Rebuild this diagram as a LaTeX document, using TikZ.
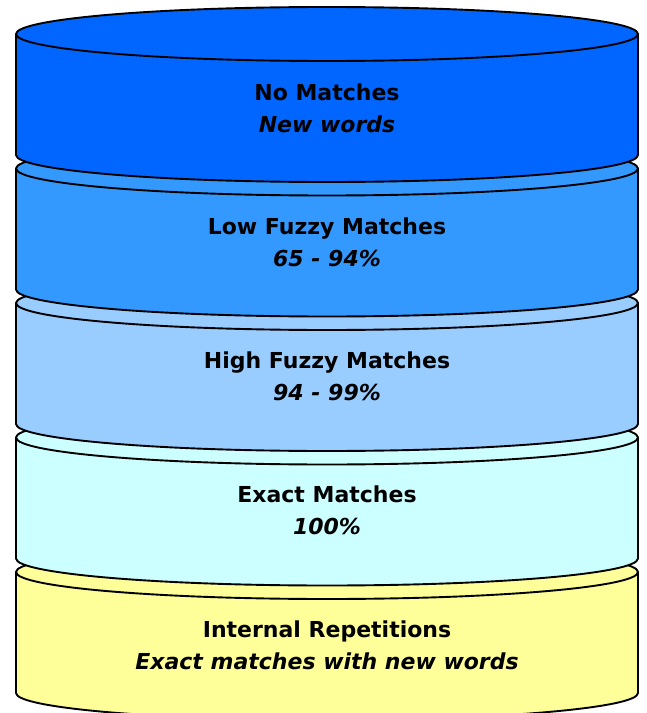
\documentclass[tikz,border=0pt]{standalone}
\usepackage{fontspec}
\setmainfont{DejaVu Sans}
\definecolor{cA}{HTML}{0066FF}
\definecolor{cB}{HTML}{3399FF}
\definecolor{cC}{HTML}{99CCFF}
\definecolor{cD}{HTML}{CCFFFF}
\definecolor{cE}{HTML}{FFFF99}
\tikzset{
  tier/.style={draw=black, line width=1.9bp, line join=round},
  tiertext/.style={align=center, font=\fontsize{22bp}{32bp}\selectfont\bfseries, text=black, inner sep=0pt}
}
\newcommand{\tierdraw}[2]{%
  \path[tier, fill=#2] (16,#1) -- (16,#1+121) arc[start angle=180, end angle=0, x radius=311, y radius=27] -- (638,#1) arc[start angle=0, end angle=-180, x radius=311, y radius=27] -- cycle;
  \draw[tier] (16,#1) arc[start angle=180, end angle=0, x radius=311, y radius=27];
}
\begin{document}
\begin{tikzpicture}[x=1bp,y=-1bp]
\useasboundingbox (0,0) rectangle (647,713);
\tierdraw{572}{cE}
\tierdraw{437.5}{cD}
\tierdraw{303}{cC}
\tierdraw{168.5}{cB}
\tierdraw{34}{cA}
\node[tiertext] (t1) at (327,108) {No Matches\\\itshape New words};
\node[tiertext] (t2) at (327,242) {Low Fuzzy Matches\\\itshape 65 - 94\%};
\node[tiertext] (t3) at (327,376) {High Fuzzy Matches\\\itshape 94 - 99\%};
\node[tiertext] (t4) at (327,510) {Exact Matches\\\itshape 100\%};
\node[tiertext] (t5) at (327,645) {Internal Repetitions\\\itshape Exact matches with new words};
\end{tikzpicture}
\end{document}
